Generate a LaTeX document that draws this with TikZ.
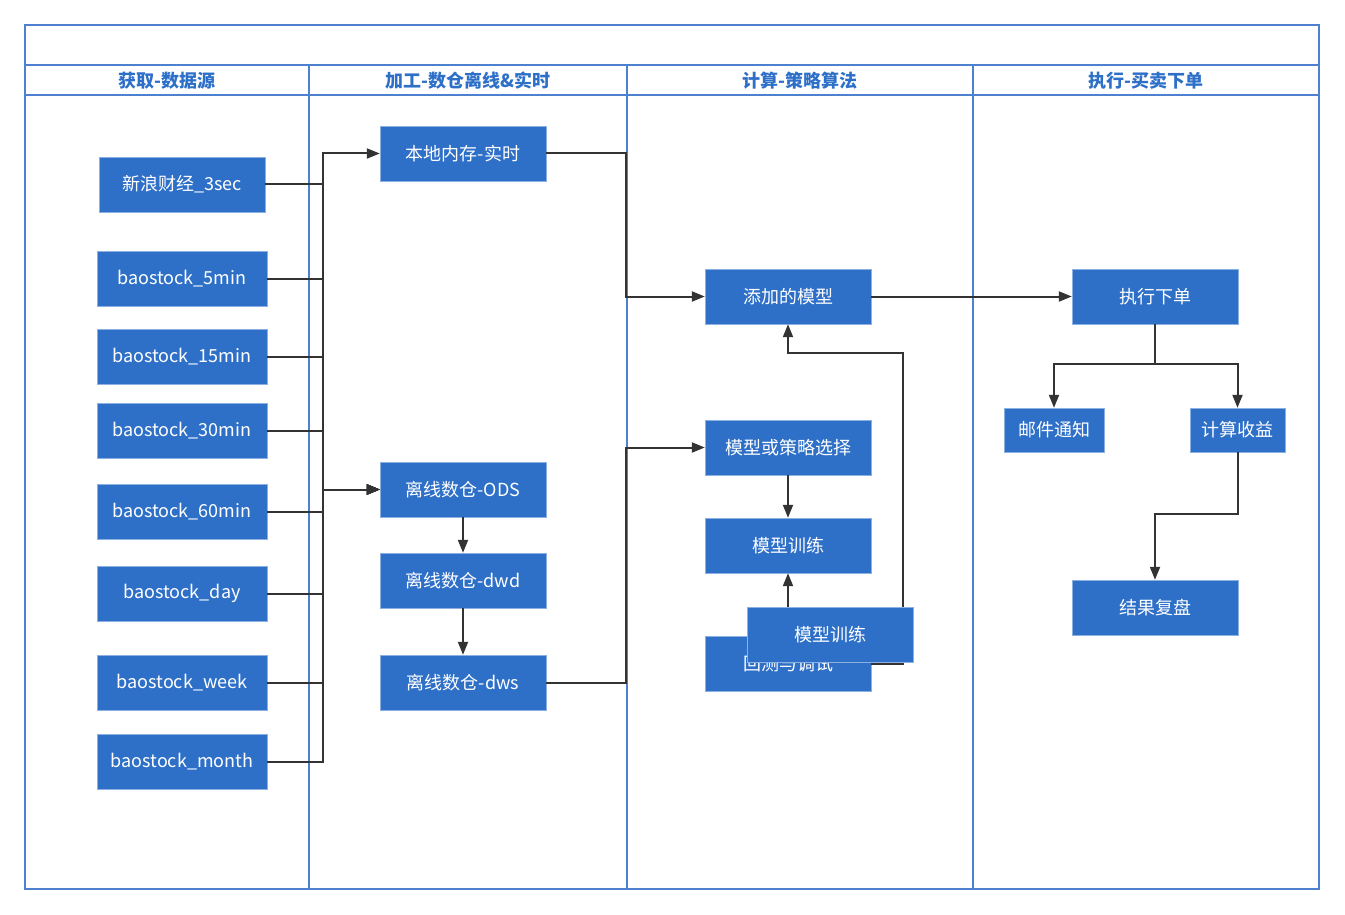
\documentclass[tikz,border=0pt]{standalone}
\usepackage{fontspec}
\setmainfont{Noto Sans CJK SC}
\usetikzlibrary{arrows.meta}
\definecolor{boxblue}{RGB}{46,112,200}
\definecolor{laneblue}{RGB}{78,128,208}
\definecolor{linegray}{RGB}{51,51,51}

\begin{document}
\begin{tikzpicture}[x=1pt,y=-1pt]
\useasboundingbox (0,0) rectangle (1345,915);

% lanes
\begin{scope}[draw=laneblue, line width=1.2pt]
    \draw (25,25) rectangle (1319,889);
    \draw (25,65) -- (1319,65);
    \draw (25,95) -- (1319,95);
    \draw (309,65) -- (309,889);
    \draw (627,65) -- (627,889);
    \draw (973,65) -- (973,889);
\end{scope}

\begin{scope}[every node/.style={text=boxblue,font=\bfseries\fontsize{18}{21}\selectfont}]
    \node (h1) at (167,80.5) {获取-数据源};
    \node (h2) at (468,80.5) {加工-数仓离线\&实时};
    \node (h3) at (800,80.5) {计算-策略算法};
    \node (h4) at (1146,80.5) {执行-买卖下单};
\end{scope}

\begin{scope}[
    every node/.style={rectangle,fill=boxblue,draw=boxblue!55!white,text=white,
        minimum width=166pt,minimum height=55pt,inner sep=0pt,
        font=\fontsize{18}{21}\selectfont}]
    \node (1) at (182,184.5) {新浪财经\_3sec};
    \node (2) at (182,278.5) [minimum width=170pt] {baostock\_5min};
    \node (3) at (182,356.5) [minimum width=170pt] {baostock\_15min};
    \node (4) at (182,430.5) [minimum width=170pt] {baostock\_30min};
    \node (5) at (182,511.5) [minimum width=170pt] {baostock\_60min};
    \node (6) at (182,593.5) [minimum width=170pt] {baostock\_day};
    \node (7) at (182,682.5) [minimum width=170pt] {baostock\_week};
    \node (8) at (182,761.5) [minimum width=170pt] {baostock\_month};

    % 2nd lane
    \node (9) at (463,153.5) {本地内存-实时};
    \node (10) at (463,489.5) {离线数仓-ODS};
    \node (11) at (463,580.5) {离线数仓-dwd};
    \node (12) at (463,682.5) {离线数仓-dws};

    % 3rd lane
    \node (13) at (788,296.5) {添加的模型};
    \node (14) at (788,447.5) {模型或策略选择};
    \node (15) at (788,545.5) {模型训练};
    \node (16) at (788,663.5) {回测与调试};

    % 4th lane
    \node (18) at (1155,296.5) {执行下单};
    \node (19) at (1054,430) [minimum width=100pt,minimum height=44pt] {邮件通知};
    \node (20) at (1237.5,430) [minimum width=95pt,minimum height=44pt] {计算收益};
    \node (21) at (1155,607.5) {结果复盘};
\end{scope}

\coordinate (bus) at (323,0);
\coordinate (mid) at (626,0);

\begin{scope}[>={Triangle[length=13pt,width=10pt]},
              every path/.style={draw=linegray,line width=2pt}]
    \draw [->] (1.east) -- (1.east -| bus) |- (9.west);
    \draw [->] (1.east) -- (1.east -| bus) |- (10.west);
    \draw [->] (2.east) -- (2.east -| bus) |- (10.west);
    \draw [->] (3.east) -- (3.east -| bus) |- (10.west);
    \draw [->] (4.east) -- (4.east -| bus) |- (10.west);
    \draw [->] (5.east) -- (5.east -| bus) |- (10.west);
    \draw [->] (6.east) -- (6.east -| bus) |- (10.west);
    \draw [->] (7.east) -- (7.east -| bus) |- (10.west);
    \draw [->] (8.east) -- (8.east -| bus) |- (10.west);

    \draw [->] (10) -- (11);
    \draw [->] (11) -- (12);
    \draw [->] (9.east) -- (9.east -| mid) |- (13.west);
    \draw [->] (12.east) -- (12.east -| mid) |- (14.west);

    \draw [->] (14) -- (15);
    \draw [->] (16) -- (15);
    \draw [->] (16.east) -- ++(32,0) |- (788,353) -- (13.south);
    \draw [->] (13) -- (18);

    \draw [->] (18.south) -- ++(0,40) -| (19.north);
    \draw [->] (18.south) -- ++(0,40) -| (20.north);
    \draw [->] (20.south) -- ++(0,62) -| (21.north);
\end{scope}

% overlapping box
\node (17) at (830.5,635) [rectangle,fill=boxblue,draw=boxblue!55!white,text=white,
    minimum width=166pt,minimum height=55pt,inner sep=0pt,
    font=\fontsize{18}{21}\selectfont] {模型训练};
\end{tikzpicture}
\end{document}
